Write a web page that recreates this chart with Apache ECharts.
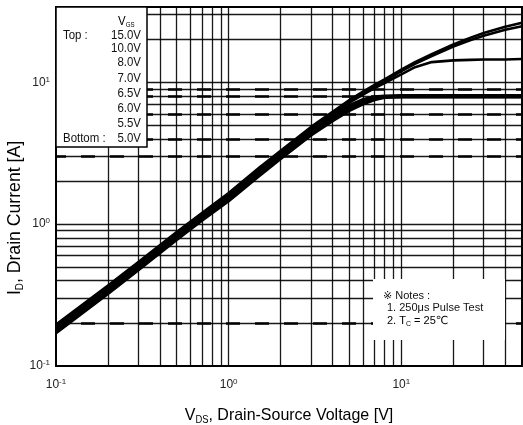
<!DOCTYPE html>
<html>
<head>
<meta charset="utf-8">
<script src="https://cdn.jsdelivr.net/npm/echarts@6/dist/echarts.min.js"></script>
<style>
  html, body { margin: 0; padding: 0; background: #fff; }
  #chart { width: 523px; height: 425px; }
</style>
</head>
<body>
<div id="chart"></div>
<script>
// Drain-source voltage sample points [V]
const vds = [0.1, 0.2, 0.3, 0.5, 0.7, 1, 1.5, 2, 3, 4, 5, 6, 7, 8, 10, 12, 15, 20, 25, 30, 40, 50];

// Gate-source voltages, top to bottom
const vgsLabels = ['15.0V', '10.0V', '8.0V', '7.0V', '6.5V', '6.0V', '5.5V', '5.0V'];

// Drain current [A] for each gate voltage
const id15  = [0.196, 0.37, 0.54, 0.88, 1.2, 1.66, 2.5, 3.3, 4.85, 6.2, 7.5, 8.6, 9.6, 10.5, 12.3, 13.9, 15.8, 18.5, 20.6, 22.3, 24.7, 26.3];
const id10  = [0.192, 0.362, 0.53, 0.865, 1.18, 1.63, 2.45, 3.24, 4.75, 6.08, 7.35, 8.4, 9.35, 10.2, 12.0, 13.5, 15.3, 17.9, 19.8, 21.3, 23.5, 24.9];
const id8   = [0.188, 0.355, 0.52, 0.85, 1.16, 1.6, 2.4, 3.18, 4.66, 5.95, 7.2, 8.2, 9.1, 9.9, 11.4, 12.8, 13.9, 14.3, 14.4, 14.5, 14.5, 14.6];
const id7   = [0.184, 0.348, 0.51, 0.835, 1.14, 1.57, 2.36, 3.12, 4.57, 5.8, 6.9, 7.6, 7.95, 8.05, 8.1, 8.1, 8.1, 8.1, 8.1, 8.1, 8.1, 8.1];
const id6p5 = [0.18, 0.341, 0.5, 0.82, 1.12, 1.54, 2.31, 3.06, 4.48, 5.68, 6.75, 7.45, 7.85, 7.95, 8.0, 8.0, 8.0, 8.0, 8.0, 8.0, 8.0, 8.0];
const id6   = [0.176, 0.334, 0.49, 0.805, 1.1, 1.51, 2.27, 3.0, 4.39, 5.56, 6.6, 7.3, 7.75, 7.9, 7.95, 7.95, 7.95, 7.95, 7.95, 7.95, 7.95, 7.95];
const id5p5 = [0.173, 0.328, 0.482, 0.79, 1.08, 1.48, 2.22, 2.94, 4.3, 5.45, 6.45, 7.15, 7.65, 7.85, 7.9, 7.9, 7.9, 7.9, 7.9, 7.9, 7.9, 7.9];
const id5   = [0.17, 0.322, 0.474, 0.775, 1.06, 1.45, 2.18, 2.88, 4.22, 5.33, 6.3, 7.0, 7.5, 7.8, 7.85, 7.85, 7.85, 7.85, 7.85, 7.85, 7.85, 7.85];
const currents = [id15, id10, id8, id7, id6p5, id6, id5p5, id5];

// Log grid line values
const xGridValues = [0.2, 0.3, 0.4, 0.5, 0.6, 0.7, 0.8, 0.9, 1, 2, 3, 4, 5, 6, 7, 8, 9, 10, 20, 30, 40];
const yGridValues = [0.2, 0.3, 0.4, 0.5, 0.6, 0.7, 0.8, 0.9, 1, 2, 3, 4, 5, 6, 7, 8, 9, 10, 20, 30];
const yDashedValues = [0.2, 3, 4, 6, 8, 9];

// Decade tick labels
const tickValues = [0.1, 1, 10];
const tickExponents = ['-1', '0', '1'];

// Axis ranges
const xRange = [0.1, 50];
const yRange = [0.1, 34];

const FONT = "'Liberation Sans', Arial, 'DejaVu Sans', 'Noto Sans CJK JP', sans-serif";

function decadeLabel(v) {
  for (let i = 0; i < tickValues.length; i++) {
    if (Math.abs(Math.log10(v) - Math.log10(tickValues[i])) < 1e-6) {
      return '{b|10}{s|' + tickExponents[i] + '}';
    }
  }
  return '';
}

const tickRich = {
  b: { fontSize: 12, lineHeight: 14, color: '#222', fontFamily: FONT },
  s: { fontSize: 8, lineHeight: 8, verticalAlign: 'top', color: '#222', fontFamily: FONT }
};

const chart = echarts.init(document.getElementById('chart'), null, { renderer: 'canvas' });

const curveSeries = currents.map((arr, k) => ({
  name: vgsLabels[k],
  type: 'line',
  data: vds.map((x, i) => [x, arr[i]]),
  showSymbol: false,
  smooth: false,
  lineStyle: { color: '#000', width: 2.6, join: 'round' },
  z: 5,
  silent: true,
  animation: false
}));

const gridSeries = {
  type: 'line',
  data: [],
  z: 1,
  silent: true,
  animation: false,
  markLine: {
    silent: true,
    symbol: ['none', 'none'],
    label: { show: false },
    animation: false,
    lineStyle: { color: '#000', width: 1.3, type: 'solid', opacity: 0.9 },
    data: xGridValues.map(v => ({ xAxis: v })).concat(yGridValues.map(v => ({ yAxis: v })))
  }
};

const dashSeries = {
  type: 'line',
  data: [],
  z: 2,
  silent: true,
  animation: false,
  markLine: {
    silent: true,
    symbol: ['none', 'none'],
    label: { show: false },
    animation: false,
    lineStyle: { color: '#000', width: 2.6, type: [14, 15], dashOffset: 4 },
    data: yDashedValues.map(v => ({ yAxis: v }))
  }
};

// Legend box contents
const legendRowsY = [35, 48, 62.5, 78, 93, 108, 123, 138];
const legendTextStyle = { fontFamily: FONT, fontSize: 13, fill: '#111' };
const legendElements = [
  { type: 'rect', shape: { x: 56, y: 7, width: 91, height: 140 },
    style: { fill: '#fff', stroke: '#000', lineWidth: 1.5 }, z: 20 },
  { type: 'text', x: 118, y: 21, z: 21, scaleX: 0.88,
    style: { text: '{v|V}{g|GS}', align: 'left', verticalAlign: 'middle',
      rich: { v: { fontFamily: FONT, fontSize: 13, lineHeight: 16, color: '#111' },
              g: { fontFamily: FONT, fontSize: 7, lineHeight: 8, verticalAlign: 'bottom', color: '#111' } } } },
  { type: 'text', x: 63, y: legendRowsY[0], z: 21, scaleX: 0.88,
    style: Object.assign({ text: 'Top :', align: 'left', verticalAlign: 'middle' }, legendTextStyle) },
  { type: 'text', x: 63, y: legendRowsY[7], z: 21, scaleX: 0.88,
    style: Object.assign({ text: 'Bottom :', align: 'left', verticalAlign: 'middle' }, legendTextStyle) }
].concat(vgsLabels.map((t, i) => ({
  type: 'text', x: 141, y: legendRowsY[i], z: 21, scaleX: 0.88,
  style: Object.assign({ text: t, align: 'right', verticalAlign: 'middle' }, legendTextStyle)
})));

// Test-condition notes
const noteStyle = { fontFamily: FONT, fontSize: 11, fill: '#111' };
const noteElements = [
  { type: 'rect', shape: { x: 373, y: 279, width: 132, height: 61 }, style: { fill: '#fff' }, z: 20 },
  { type: 'text', x: 383, y: 296, z: 21,
    style: Object.assign({ text: '※ Notes :', align: 'left', verticalAlign: 'middle' }, noteStyle) },
  { type: 'text', x: 387, y: 308, z: 21,
    style: Object.assign({ text: '1. 250μs Pulse Test', align: 'left', verticalAlign: 'middle' }, noteStyle) },
  { type: 'text', x: 387, y: 321, z: 21,
    style: { text: '{n|2. T}{c|C}{n| = 25℃}', align: 'left', verticalAlign: 'middle',
      rich: { n: { fontFamily: FONT, fontSize: 11, lineHeight: 13, color: '#111' },
              c: { fontFamily: FONT, fontSize: 7, lineHeight: 8, verticalAlign: 'bottom', color: '#111' } } } }
];

// Axis titles
const titleRich = {
  n: { fontFamily: FONT, fontSize: 17, lineHeight: 20, color: '#222' },
  sub: { fontFamily: FONT, fontSize: 10, lineHeight: 11, verticalAlign: 'bottom', color: '#222' }
};
const titleRichY = {
  n: { fontFamily: FONT, fontSize: 18, lineHeight: 21, color: '#222' },
  sub: { fontFamily: FONT, fontSize: 10, lineHeight: 11, verticalAlign: 'bottom', color: '#222' }
};
const titleElements = [
  { type: 'text', x: 289, y: 415, z: 21, scaleX: 0.94,
    style: { text: '{n|V}{sub|DS}{n|, Drain-Source Voltage [V]}', align: 'center', verticalAlign: 'middle', rich: titleRich } },
  { type: 'text', x: 15, y: 218, z: 21, rotation: Math.PI / 2, scaleX: 0.98,
    style: { text: '{n|I}{sub|D}{n|, Drain Current [A]}', align: 'center', verticalAlign: 'middle', rich: titleRichY } }
];

chart.setOption({
  animation: false,
  backgroundColor: '#fff',
  grid: { left: 56, right: 1, top: 7, bottom: 59, show: true, borderColor: '#000', borderWidth: 2, backgroundColor: 'transparent' },
  xAxis: {
    type: 'log', logBase: 10, min: xRange[0], max: xRange[1],
    axisLine: { show: false }, axisTick: { show: false }, splitLine: { show: false },
    axisLabel: { formatter: decadeLabel, rich: tickRich, margin: 12, showMaxLabel: false, hideOverlap: false }
  },
  yAxis: {
    type: 'log', logBase: 10, min: yRange[0], max: yRange[1],
    axisLine: { show: false }, axisTick: { show: false }, splitLine: { show: false },
    axisLabel: { formatter: decadeLabel, rich: tickRich, margin: 6, showMaxLabel: false, hideOverlap: false }
  },
  series: [gridSeries, dashSeries].concat(curveSeries),
  graphic: legendElements.concat(noteElements, titleElements)
});
</script>
</body>
</html>
